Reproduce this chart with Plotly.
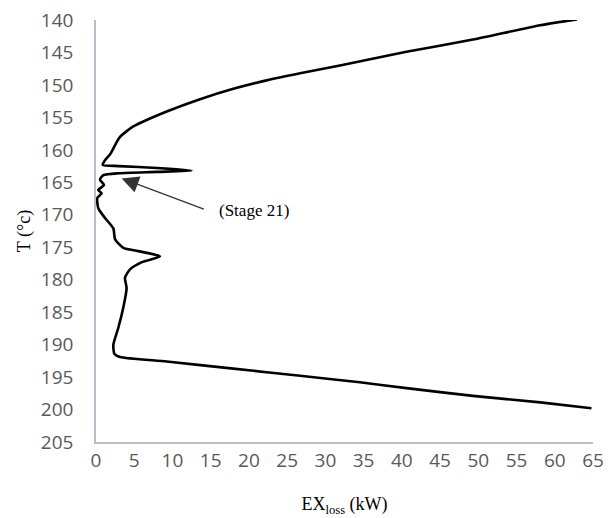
import plotly.graph_objects as go

# Exergy loss profile (kW) vs stage temperature (°C), traced in order along the curve
ex_loss = [62.9, 58.1, 49.3, 40.6, 31.9, 26.7, 22.3, 17.96, 13.6, 9.25, 4.88, 3.14, 2.48, 1.9, 1.18, 0.87,
           3.0, 8.0, 12.5, 8.0, 3.0, 0.96,
           0.52, 1.05, 0.3, 0.74, 0.17, 0.3, 1.18, 2.27, 2.5, 3.57,
           5.5, 8.37, 6.0, 4.45, 3.79, 4.0, 3.57, 2.92, 2.27, 2.4, 3.14,
           9.25, 17.96, 26.7, 34.5, 40.6, 49.3, 58.1, 64.8]
temp = [139.9, 140.8, 143.0, 144.9, 147.0, 148.2, 149.3, 150.6, 152.2, 154.1, 156.4, 158.0, 159.3, 160.6, 161.6, 162.3,
        162.5, 162.8, 163.2, 163.4, 163.6, 163.9,
        164.6, 165.4, 166.2, 166.7, 167.4, 169.0, 170.5, 172.1, 173.8, 175.1,
        175.6, 176.4, 177.3, 178.4, 179.7, 181.3, 184.3, 187.4, 190.0, 191.4, 191.9,
        192.6, 193.7, 194.8, 195.8, 196.7, 197.9, 198.9, 199.8]

x_ticks = list(range(0, 66, 5))
y_ticks = list(range(140, 206, 5))

annot_text = "(Stage 21)"
annot_point = (3.36, 164.4)
annot_tail = (14.3, 169.2)
annot_text_pos = (20.6, 169.3)

fig = go.Figure()
fig.add_trace(go.Scatter(x=ex_loss, y=temp, mode="lines",
                         line=dict(color="black", width=2.6, shape="spline", smoothing=0.6),
                         showlegend=False, hoverinfo="skip"))

fig.add_annotation(x=annot_point[0], y=annot_point[1], ax=annot_tail[0], ay=annot_tail[1],
                   axref="x", ayref="y", xref="x", yref="y", text="", showarrow=True,
                   arrowhead=2, arrowsize=2.6, arrowwidth=1.3, arrowcolor="#333333")
fig.add_annotation(x=annot_text_pos[0], y=annot_text_pos[1], xref="x", yref="y",
                   text=annot_text, showarrow=False,
                   font=dict(family="Liberation Serif", size=17, color="black"))

axis_font = dict(family="Open Sans", size=19, color="#595959")
title_font = dict(family="Liberation Serif", size=18, color="black")

fig.update_xaxes(range=[0, 65], tickvals=x_ticks, showgrid=False, zeroline=False,
                 showline=True, linecolor="#b7bec8", linewidth=1.5, ticks="", automargin=False,
                 ticklabeloverflow="allow",
                 tickfont=axis_font, title=dict(text="EX<sub>loss</sub> (kW)", font=title_font, standoff=26))
fig.update_yaxes(range=[205, 140], tickvals=y_ticks, showgrid=False, zeroline=False,
                 showline=True, linecolor="#b7bec8", linewidth=1.5, ticks="", automargin=False,
                 ticklabelstandoff=17, ticklabeloverflow="allow",
                 tickfont=axis_font, title=dict(text="T (°c)", font=title_font, standoff=6))

# the page body adds an 8px offset, so the figure is sized/margined to compensate
fig.update_layout(width=605, height=510, plot_bgcolor="white", paper_bgcolor="white",
                  margin=dict(l=88, r=20, t=12, b=76))

fig.write_html("out.html")
